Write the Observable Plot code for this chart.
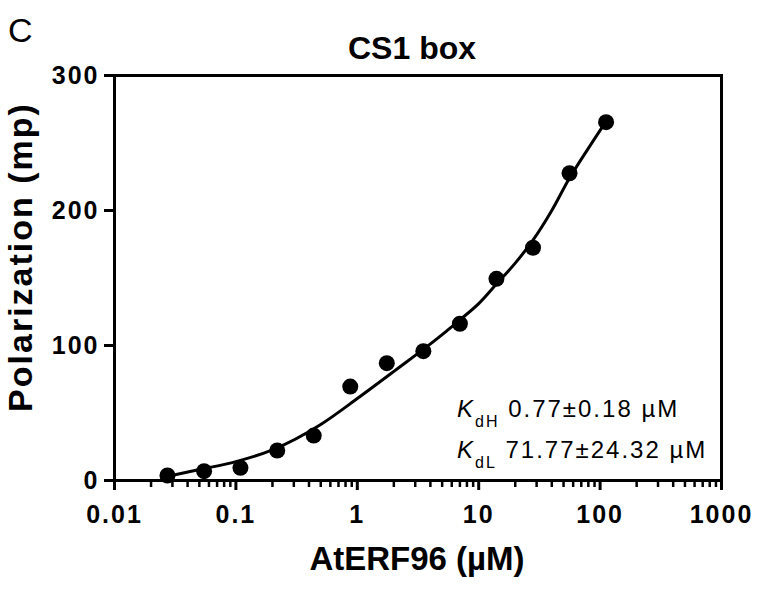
<!DOCTYPE html>
<html><head><meta charset="utf-8">
<script src="https://cdn.jsdelivr.net/npm/d3@7"></script>
<script src="https://cdn.jsdelivr.net/npm/@observablehq/plot@0.6"></script>
<style>
body{margin:0;background:#fff;}
#chart svg{display:block;}
g[aria-label="y-axis tick label"] text{letter-spacing:2px;}
g[aria-label="x-axis tick label"] text{letter-spacing:2px;}
</style>
</head><body><div id="chart"></div>
<script>
// measured data (AtERF96 concentration, µM vs polarization, mP)
const concentration = [0.0273, 0.0547, 0.109, 0.219, 0.4375, 0.875, 1.75, 3.5, 7, 14, 28, 56, 112];
const polarization  = [3.7, 6.9, 9.4, 22.2, 33.3, 69.6, 86.9, 95.8, 116.1, 149.4, 172.4, 227.6, 265.4];
// fitted curve
const fitX = [0.0273, 0.05, 0.1, 0.2, 0.5, 1, 2, 5, 7, 10, 14, 20, 28, 40, 56, 80, 112];
const fitY = [3, 8.1, 14, 22.7, 41.5, 60.7, 80.8, 108, 119, 131, 145.5, 161, 178, 200, 224, 246, 266];
const xTicks = [0.01, 0.1, 1, 10, 100, 1000];
const xTickLabels = ["0.01", "0.1", "1", "10", "100", "1000"];
const yTicks = [0, 100, 200, 300];
const yTickLabels = ["0", "100", "200", "300"];
const panelLetter = "C";
const title = "CS1 box";
const xLabel = "AtERF96 (µM)";
const yLabel = "Polarization (mp)";
const kdSubs = ["dH", "dL"];
const kdValues = [" 0.77±0.18 µM", " 71.77±24.32 µM"];

const minorTicks = [];
for (let e = -2; e < 3; e++) for (let m = 2; m <= 9; m++) minorTicks.push(m * Math.pow(10, e));

const points = concentration.map((c, i) => ({x: c, y: polarization[i]}));
const fit = fitX.map((c, i) => ({x: c, y: fitY[i]}));

const W = 767, H = 592;
const font = "'Liberation Sans', Arial, Helvetica, sans-serif";
const plot = Plot.plot({
  width: W, height: H,
  marginLeft: 114, marginRight: 46, marginTop: 75, marginBottom: 112,
  style: {fontFamily: font, background: "#fff", color: "#000"},
  x: {type: "log", domain: [0.01, 1000]},
  y: {domain: [0, 300]},
  marks: [
    Plot.axisX(minorTicks, {tickSize: 7, strokeWidth: 2.5, tickFormat: () => "", label: null}),
    Plot.axisX(xTicks, {tickSize: 10, tickPadding: 15, strokeWidth: 3, fontSize: 25, fontWeight: "bold",
      tickFormat: d => xTickLabels[xTicks.indexOf(d)], label: null}),
    Plot.axisY(yTicks, {tickSize: 10, tickPadding: 5, strokeWidth: 3, fontSize: 25, fontWeight: "bold",
      tickFormat: d => yTickLabels[yTicks.indexOf(d)], label: null}),
    Plot.frame({stroke: "#000", strokeWidth: 3}),
    Plot.line(fit, {x: "x", y: "y", curve: "monotone-x", stroke: "#000", strokeWidth: 3}),
    Plot.dot(points, {x: "x", y: "y", r: 8, fill: "#000", stroke: "none"})
  ]
});
document.getElementById("chart").appendChild(plot);

const svg = d3.select(plot);
svg.append("text").attr("x", 8).attr("y", 42).attr("text-anchor", "start").attr("font-family", font)
  .attr("font-size", 34).text(panelLetter);
svg.append("text").attr("x", 412).attr("y", 59).attr("text-anchor", "middle").attr("font-family", font)
  .attr("font-size", 32).attr("font-weight", "bold").text(title);
svg.append("text").attr("x", 417).attr("y", 570).attr("text-anchor", "middle").attr("font-family", font)
  .attr("font-size", 33).attr("font-weight", "bold").text(xLabel);
svg.append("text").attr("transform", "translate(32,257) rotate(-90)").attr("text-anchor", "middle")
  .attr("font-family", font).attr("font-size", 34).attr("font-weight", "bold")
  .attr("letter-spacing", 2).text(yLabel);

const baselines = [416.5, 458];
kdSubs.forEach((s, i) => {
  const t = svg.append("text").attr("x", 457).attr("y", baselines[i]).attr("text-anchor", "start")
    .attr("font-family", font).attr("font-size", 24).attr("letter-spacing", 2);
  t.append("tspan").attr("font-style", "italic").text("K");
  t.append("tspan").attr("font-size", 16).attr("dy", 10).text(s);
  t.append("tspan").attr("dy", -10).text(kdValues[i]);
});
</script>
</body></html>
